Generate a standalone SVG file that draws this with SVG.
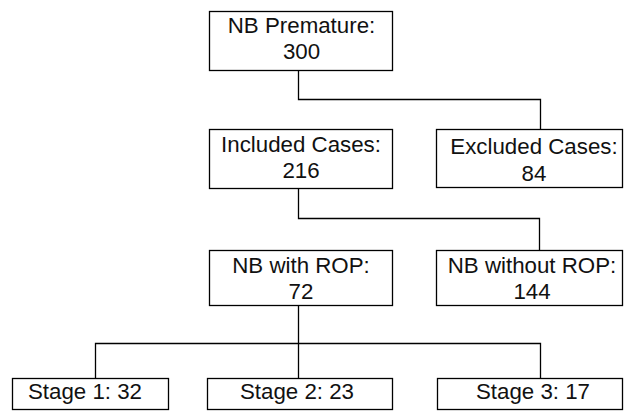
<svg xmlns="http://www.w3.org/2000/svg" width="624" height="412" viewBox="0 0 624 412">
<style>
.box{fill:#fff;stroke:#000;stroke-width:1.3}
.t{font-family:"Liberation Sans",Arial,sans-serif;font-size:22.3px;fill:#111;text-anchor:middle}
.c{fill:none;stroke:#000;stroke-width:1.3}
</style>
<rect width="624" height="412" fill="#fff"/>
<g id="connectors">
<path class="c" d="M298.5 70V99.5H540.5V129"/>
<path class="c" d="M298.5 189V218.5H539.5V250"/>
<path class="c" d="M298.5 305V343.5M95.5 378V343.5H540.5V378M298.5 343.5V378"/>
</g>
<g id="n1"><rect class="box" x="209.5" y="11.5" width="183" height="59"/><text class="t" x="301.5" y="33">NB Premature:</text><text class="t" x="301.5" y="59">300</text></g>
<g id="n2"><rect class="box" x="209.5" y="129.5" width="183" height="59"/><text class="t" x="301" y="152">Included Cases:</text><text class="t" x="301" y="178">216</text></g>
<g id="n3"><rect class="box" x="436.5" y="129.5" width="186" height="58"/><text class="t" x="534" y="154">Excluded Cases:</text><text class="t" x="534" y="181">84</text></g>
<g id="n4"><rect class="box" x="209.5" y="250.5" width="183" height="55"/><text class="t" x="301" y="273">NB with ROP:</text><text class="t" x="301" y="299">72</text></g>
<g id="n5"><rect class="box" x="436.5" y="250.5" width="186" height="55"/><text class="t" x="532" y="273">NB without ROP:</text><text class="t" x="532" y="299">144</text></g>
<g id="n6"><rect class="box" x="12.5" y="378.5" width="156" height="31"/><text class="t" x="85" y="399">Stage 1: 32</text></g>
<g id="n7"><rect class="box" x="207.5" y="378.5" width="185" height="31"/><text class="t" x="297" y="399">Stage 2: 23</text></g>
<g id="n8"><rect class="box" x="437.5" y="378.5" width="185" height="31"/><text class="t" x="533" y="399">Stage 3: 17</text></g>
</svg>
